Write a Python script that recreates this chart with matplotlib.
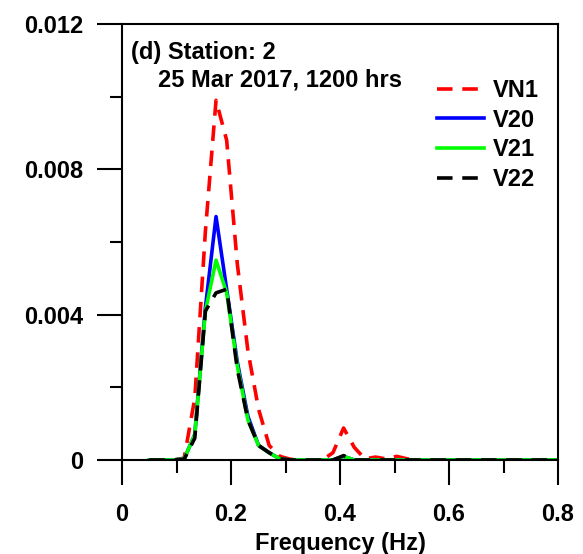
import numpy as np
import matplotlib
matplotlib.use('Agg')
import matplotlib.pyplot as plt

plt.rcParams['font.family'] = ['Liberation Sans', 'DejaVu Sans']
plt.rcParams['font.weight'] = 'bold'
plt.rcParams['font.size'] = 17

# frequency (Hz)
freq = [0.050, 0.075, 0.0945, 0.114, 0.1335, 0.153, 0.1725, 0.192, 0.2115, 0.231,
        0.2505, 0.270, 0.2895, 0.309, 0.3285, 0.348, 0.3675, 0.387, 0.4065, 0.426,
        0.4455, 0.465, 0.4845, 0.504, 0.5235, 0.543, 0.5625, 0.582, 0.6015, 0.621,
        0.6405, 0.660, 0.6795, 0.699, 0.7185, 0.738, 0.7575, 0.777, 0.7965, 0.800]

vn1 = [0, 0, 0, 0.00005, 0.0017, 0.0063, 0.0099, 0.0088, 0.0054, 0.0030,
       0.0014, 0.0004, 0.0001, 0.00002, 0, 0, 0, 0.0002, 0.00088, 0.00035,
       0.00003, 0.00008, 0.00003, 0.0001, 0.00003, 0, 0, 0, 0, 0,
       0, 0, 0, 0, 0, 0, 0, 0, 0, 0]

v20 = [0, 0, 0, 0.00003, 0.0007, 0.0042, 0.0067, 0.0047, 0.0027, 0.0012,
       0.0004, 0.0002, 0.00003, 0, 0, 0, 0, 0, 0.0001, 0,
       0, 0, 0, 0, 0, 0, 0, 0, 0, 0,
       0, 0, 0, 0, 0, 0, 0, 0, 0, 0]

v21 = [0, 0, 0, 0.00003, 0.0007, 0.0041, 0.0055, 0.0046, 0.0026, 0.0011,
       0.0004, 0.0002, 0.00003, 0, 0, 0, 0, 0, 0.0001, 0,
       0, 0, 0, 0, 0, 0, 0, 0, 0, 0,
       0, 0, 0, 0, 0, 0, 0, 0, 0, 0]

v22 = [0, 0, 0, 0.00002, 0.0006, 0.0041, 0.0046, 0.0047, 0.0025, 0.0011,
       0.0004, 0.0002, 0.00003, 0, 0, 0, 0, 0, 0.00012, 0,
       0, 0, 0, 0, 0, 0, 0, 0, 0, 0,
       0, 0, 0, 0, 0, 0, 0, 0, 0, 0]

fig = plt.figure(figsize=(5.83, 5.54), dpi=100)
ax = fig.add_axes([0.2093, 0.1697, 0.7479, 0.787])

ax.plot(freq, vn1, color='#ff0000', lw=2.6, dashes=(4.3, 2.7), label='VN1')
ax.plot(freq, v20, color='#0000ff', lw=2.6, label='V20')
ax.plot(freq, v21, color='#00ff00', lw=2.6, label='V21')
ax.plot(freq, v22, color='black', lw=2.6, dashes=(4.3, 2.7), label='V22')

ax.set_xlim(0, 0.8)
ax.set_ylim(0, 0.012)
ax.set_xticks([0, 0.2, 0.4, 0.6, 0.8])
ax.set_xticklabels(['0', '0.2', '0.4', '0.6', '0.8'])
ax.set_xticks([0.1, 0.3, 0.5, 0.7], minor=True)
ax.set_yticks([0, 0.004, 0.008, 0.012])
ax.set_yticklabels(['0', '0.004', '0.008', '0.012'])
ax.set_yticks([0.002, 0.006, 0.010], minor=True)

ax.tick_params(which='both', direction='out', width=1.5)
ax.tick_params(which='major', length=18)
ax.tick_params(which='minor', length=9)
ax.tick_params(axis='y', pad=10)
ax.tick_params(axis='x', pad=13)
ax.tick_params(top=False, right=False)
for s in ax.spines.values():
    s.set_linewidth(1.5)

ax.set_xlabel('Frequency (Hz)', fontweight='bold', labelpad=4)

ax.text(0.02, 0.96, '(d) Station: 2', transform=ax.transAxes, ha='left', va='top')
ax.text(0.083, 0.898, '25 Mar 2017, 1200 hrs', transform=ax.transAxes, ha='left', va='top')

ax.legend(loc='upper left', bbox_to_anchor=(437 / 583, 1 - 79 / 554),
          bbox_transform=fig.transFigure, frameon=False, borderpad=0,
          borderaxespad=0, handlelength=2.0, handletextpad=0.35,
          labelspacing=0.28, fontsize=17)

fig.savefig('out.png', dpi=100)
